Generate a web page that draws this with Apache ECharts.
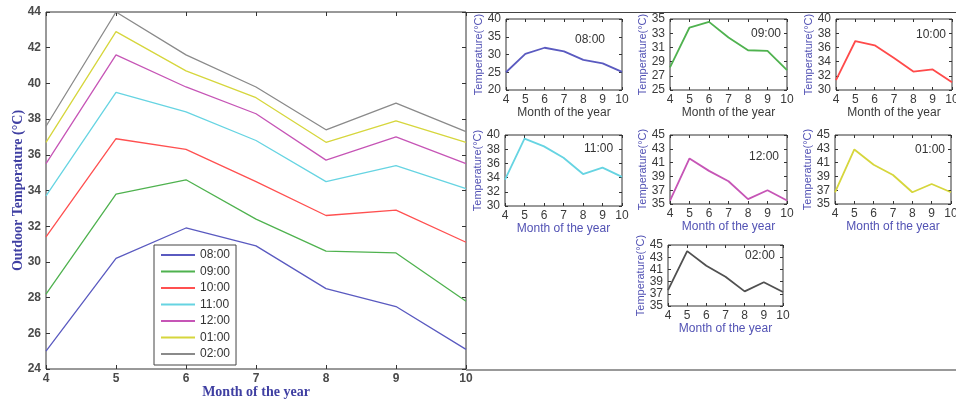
<!DOCTYPE html>
<html>
<head>
<meta charset="utf-8">
<script src="https://cdn.jsdelivr.net/npm/echarts@6/dist/echarts.min.js"></script>
<style>
html, body { margin: 0; padding: 0; background: #fff; }
#chart { width: 956px; height: 403px; }
</style>
</head>
<body>
<div id="chart"></div>
<script>
// Monthly outdoor temperature (°C) at each hour of the day
const months = [4, 5, 6, 7, 8, 9, 10];
const hours = ['08:00', '09:00', '10:00', '11:00', '12:00', '01:00', '02:00'];

const temp0800 = [25.0, 30.2, 31.9, 30.9, 28.5, 27.5, 25.1];
const temp0900 = [28.2, 33.8, 34.6, 32.4, 30.6, 30.5, 27.8];
const temp1000 = [31.4, 36.9, 36.3, 34.5, 32.6, 32.9, 31.1];
const temp1100 = [33.7, 39.5, 38.4, 36.8, 34.5, 35.4, 34.1];
const temp1200 = [35.5, 41.6, 39.8, 38.3, 35.7, 37.0, 35.5];
const temp0100 = [36.7, 42.9, 40.7, 39.2, 36.7, 37.9, 36.7];
const temp0200 = [37.6, 44.0, 41.6, 39.8, 37.4, 38.9, 37.3];

// Tick labels
const mainTempTicks = [24, 26, 28, 30, 32, 34, 36, 38, 40, 42, 44];
const ticks0800 = [20, 25, 30, 35, 40];
const ticks0900 = [25, 27, 29, 31, 33, 35];
const ticks1000 = [30, 32, 34, 36, 38, 40];
const ticks1100 = [30, 32, 34, 36, 38, 40];
const ticks1200 = [35, 37, 39, 41, 43, 45];
const ticks0100 = [35, 37, 39, 41, 43, 45];
const ticks0200 = [35, 37, 39, 41, 43, 45];

const hourValues = [temp0800, temp0900, temp1000, temp1100, temp1200, temp0100, temp0200];
const hourTicks = [ticks0800, ticks0900, ticks1000, ticks1100, ticks1200, ticks0100, ticks0200];

// Styling
const lineColors = ['#5a5ac0', '#4fb24f', '#ff5050', '#66d4e2', '#c655b6', '#d6d63c', '#8a8a8a'];
const subLineColors = ['#5a5ac0', '#4fb24f', '#ff4a4a', '#66d4e2', '#c655b6', '#d6d63c', '#505050'];
const SANS = '"Liberation Sans", Arial, sans-serif';
const SERIF = '"Liberation Serif", "Times New Roman", serif';
const BLUE = '#3f3fa2';
const SUB_BLUE = '#5252b4';

// Small panels: plot box, hour tag position, x-axis title colour
const panels = [
  { left: 506, top: 19, width: 116, height: 71, tag: [575, 34], xNameColor: '#3a3a3a' },
  { left: 670, top: 19, width: 117, height: 71, tag: [751, 28], xNameColor: '#3a3a3a' },
  { left: 836, top: 19, width: 116, height: 71, tag: [916, 29], xNameColor: '#3a3a3a' },
  { left: 505, top: 135, width: 117, height: 71, tag: [584, 143], xNameColor: SUB_BLUE },
  { left: 670, top: 135, width: 117, height: 69, tag: [749, 151], xNameColor: SUB_BLUE },
  { left: 835, top: 135, width: 116, height: 69, tag: [915, 144], xNameColor: SUB_BLUE },
  { left: 668, top: 245, width: 115, height: 61, tag: [745, 250], xNameColor: SUB_BLUE }
];

const grids = [], xAxes = [], yAxes = [], series = [], titles = [];

function pairs(values) {
  return months.map((m, i) => [m, values[i]]);
}

function addPanel(box, yTicks, cfg) {
  const g = grids.length;
  grids.push({
    left: box.left, top: box.top, width: box.width, height: box.height,
    show: true, borderColor: '#333', borderWidth: 1, backgroundColor: 'transparent',
    containLabel: false, outerBoundsMode: 'none'
  });
  const yMin = yTicks[0], yMax = yTicks[yTicks.length - 1];
  const tickStyle = { inside: true, length: cfg.tickLen, lineStyle: { color: '#333', width: 1 } };
  // bottom month axis
  xAxes.push({
    gridIndex: g, type: 'value', min: 4, max: 10, position: 'bottom',
    axisLine: { show: false }, splitLine: { show: false },
    axisTick: Object.assign({ customValues: months }, tickStyle),
    axisLabel: {
      customValues: months, margin: cfg.xLabelMargin,
      fontSize: cfg.labelSize, fontFamily: SANS, color: cfg.labelColor, fontWeight: cfg.labelWeight
    },
    name: 'Month of the year', nameLocation: 'middle', nameGap: cfg.xNameGap,
    nameMoveOverlap: false, nameTextStyle: cfg.xNameStyle
  });
  // mirrored ticks along the top edge
  xAxes.push({
    gridIndex: g, type: 'value', min: 4, max: 10, position: 'top',
    axisLine: { show: false }, splitLine: { show: false }, axisLabel: { show: false },
    axisTick: Object.assign({ customValues: months }, tickStyle)
  });
  // left temperature axis
  yAxes.push({
    gridIndex: g, type: 'value', min: yMin, max: yMax, position: 'left',
    axisLine: { show: false }, splitLine: { show: false },
    axisTick: Object.assign({ customValues: yTicks }, tickStyle),
    axisLabel: {
      customValues: yTicks, margin: cfg.yLabelMargin,
      fontSize: cfg.labelSize, fontFamily: SANS, color: cfg.labelColor, fontWeight: cfg.labelWeight
    },
    name: cfg.yName, nameLocation: 'middle', nameGap: cfg.yNameGap,
    nameMoveOverlap: false, nameTextStyle: cfg.yNameStyle
  });
  // mirrored ticks along the right edge
  yAxes.push({
    gridIndex: g, type: 'value', min: yMin, max: yMax, position: 'right',
    axisLine: { show: false }, splitLine: { show: false }, axisLabel: { show: false },
    axisTick: Object.assign({ customValues: yTicks }, tickStyle)
  });
  return g;
}

// Main panel with all hours
const mainGrid = addPanel({ left: 46, top: 12, width: 420, height: 357 }, mainTempTicks, {
  tickLen: 4, xLabelMargin: 4, yLabelMargin: 5,
  labelSize: 12, labelColor: '#4a4a4a', labelWeight: 'bold',
  xNameGap: 16,
  xNameStyle: { fontFamily: SERIF, fontSize: 14, fontWeight: 'bold', color: BLUE },
  yName: 'Outdoor Temperature (°C)', yNameGap: 21,
  yNameStyle: { fontFamily: SERIF, fontSize: 14, fontWeight: 'bold', color: BLUE }
});

hours.forEach((h, i) => {
  series.push({
    name: h, type: 'line', xAxisIndex: mainGrid * 2, yAxisIndex: mainGrid * 2,
    data: pairs(hourValues[i]), symbol: 'none', silent: true,
    lineStyle: { color: lineColors[i], width: 1.3 }, itemStyle: { color: lineColors[i] }
  });
});

// One small panel per hour
hours.forEach((h, i) => {
  const p = panels[i];
  const g = addPanel(p, hourTicks[i], {
    tickLen: 3, xLabelMargin: 4, yLabelMargin: 5,
    labelSize: 12, labelColor: '#3a3a3a', labelWeight: 'normal',
    xNameGap: 17,
    xNameStyle: { fontFamily: SANS, fontSize: 12, color: p.xNameColor },
    yName: 'Temperature(°C)', yNameGap: 22,
    yNameStyle: { fontFamily: SANS, fontSize: 11, color: SUB_BLUE }
  });
  series.push({
    name: 'panel ' + h, type: 'line', xAxisIndex: g * 2, yAxisIndex: g * 2,
    data: pairs(hourValues[i]), symbol: 'none', silent: true,
    lineStyle: { color: subLineColors[i], width: 1.8 }, itemStyle: { color: subLineColors[i] }
  });
  titles.push({
    text: h, left: p.tag[0], top: p.tag[1], padding: 0,
    textStyle: { fontFamily: SANS, fontSize: 12, fontWeight: 'normal', color: '#333' }
  });
});

const chart = echarts.init(document.getElementById('chart'), null, { renderer: 'canvas' });
chart.setOption({
  animation: false,
  backgroundColor: '#fff',
  title: titles,
  grid: grids,
  xAxis: xAxes,
  yAxis: yAxes,
  series: series,
  legend: {
    data: hours, orient: 'vertical', left: 154, top: 245,
    icon: 'rect', itemWidth: 34, itemHeight: 2, itemGap: 4.5,
    padding: [4, 6, 5, 7], backgroundColor: '#fff',
    borderColor: '#444', borderWidth: 1, selectedMode: false,
    textStyle: { fontFamily: SANS, fontSize: 12, lineHeight: 12, color: '#333', padding: [0, 0, 0, 0] }
  },
  graphic: [
    { type: 'line', shape: { x1: 466, y1: 12.5, x2: 956, y2: 12.5 }, style: { stroke: '#444', lineWidth: 1 }, silent: true },
    { type: 'line', shape: { x1: 466, y1: 370, x2: 956, y2: 370 }, style: { stroke: '#999', lineWidth: 2 }, silent: true }
  ]
});
</script>
</body>
</html>
